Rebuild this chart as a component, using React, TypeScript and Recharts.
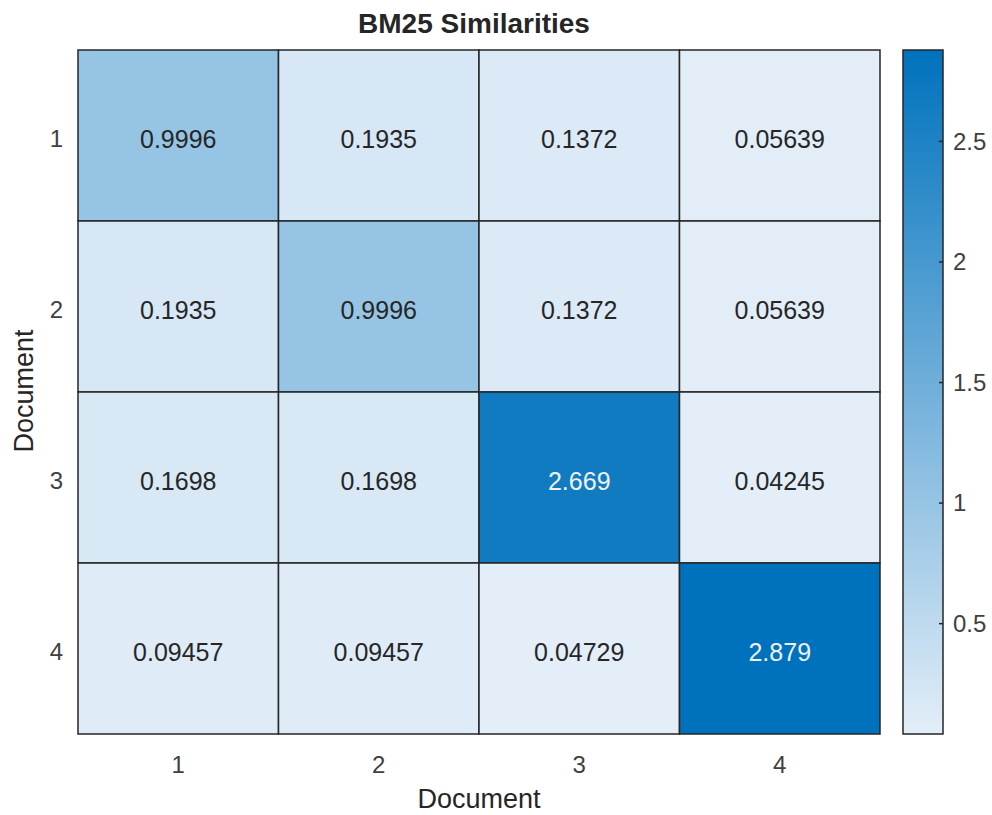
import React from "react";
import {
  ComposedChart,
  Scatter,
  XAxis,
  YAxis,
  ReferenceArea,
} from "recharts";

// ---- data ----
const xCategories = [1, 2, 3, 4];
const yCategories = [1, 2, 3, 4];
const row1 = [0.9996, 0.1935, 0.1372, 0.05639];
const row2 = [0.1935, 0.9996, 0.1372, 0.05639];
const row3 = [0.1698, 0.1698, 2.669, 0.04245];
const row4 = [0.09457, 0.09457, 0.04729, 2.879];
const rows = [row1, row2, row3, row4];
const colorbarTicks = [0.5, 1, 1.5, 2, 2.5];

const title = "BM25 Similarities";
const xLabel = "Document";
const yLabel = "Document";

// ---- derived ----
const cells = rows.flatMap((r, ri) =>
  r.map((v, ci) => ({ x: xCategories[ci], y: yCategories[ri], v }))
);
const allVals = rows.flat();
const vMin = Math.min(...allVals);
const vMax = Math.max(...allVals);

const LO = [227, 238, 248];
const HI = [0, 114, 189];
const colorFor = (v: number) => {
  const t = (v - vMin) / (vMax - vMin);
  const c = LO.map((l, i) => Math.round(l + (HI[i] - l) * t));
  return `rgb(${c[0]},${c[1]},${c[2]})`;
};
const textColorFor = (v: number) =>
  (v - vMin) / (vMax - vMin) > 0.6 ? "#f0f0f0" : "#262626";
const fmt = (v: number) => String(Number(v.toPrecision(4)));

const FONT = "'Liberation Sans', Arial, Helvetica, sans-serif";
const W = 992;
const H = 815;

const CellLabel = (props: any) => {
  const { cx, cy, payload } = props;
  return (
    <text
      x={cx}
      y={cy + 3}
      textAnchor="middle"
      dominantBaseline="central"
      fontFamily={FONT}
      fontSize={25}
      fill={textColorFor(payload.v)}
    >
      {fmt(payload.v)}
    </text>
  );
};

const YTick = (props: any) => {
  const { x, y, payload } = props;
  return (
    <text
      x={x}
      y={y + 3}
      textAnchor="end"
      dominantBaseline="central"
      fontFamily={FONT}
      fontSize={24}
      fill="#404040"
    >
      {payload.value}
    </text>
  );
};

const ColorbarTick = (props: any) => {
  const { x, y, payload } = props;
  return (
    <g>
      <line x1={x - 4} x2={x} y1={y} y2={y} stroke="#262626" strokeWidth={1.5} />
      <text
        x={x + 10}
        y={y}
        dy="0.35em"
        textAnchor="start"
        fontFamily={FONT}
        fontSize={24}
        fill="#404040"
      >
        {payload.value}
      </text>
    </g>
  );
};

const colorbarData = [
  { x: 0, y: vMin },
  { x: 1, y: vMax },
];

export default function App() {
  return (
    <div
      style={{
        position: "absolute",
        left: 0,
        top: 0,
        width: W,
        height: H,
        background: "#fff",
        fontFamily: FONT,
        overflow: "hidden",
      }}
    >
      <div style={{ position: "absolute", left: 0, top: 0 }}>
        <ComposedChart
          width={W}
          height={H}
          data={cells}
          margin={{ top: 50, right: 112, bottom: 41, left: 18 }}
        >
          <XAxis
            type="number"
            dataKey="x"
            domain={[0.5, 4.5]}
            ticks={xCategories}
            allowDataOverflow
            axisLine={false}
            tickLine={false}
            tickSize={0}
            tickMargin={22}
            height={40}
            tick={{ fontSize: 24, fill: "#404040", fontFamily: FONT }}
          />
          <YAxis
            type="number"
            dataKey="y"
            domain={[0.5, 4.5]}
            reversed
            ticks={yCategories}
            allowDataOverflow
            axisLine={false}
            tickLine={false}
            tickSize={0}
            tickMargin={15}
            width={60}
            tick={YTick}
          />
          {cells.map((c, i) => (
            <ReferenceArea
              key={i}
              x1={c.x - 0.5}
              x2={c.x + 0.5}
              y1={c.y - 0.5}
              y2={c.y + 0.5}
              fill={colorFor(c.v)}
              fillOpacity={1}
              stroke="#262626"
              strokeOpacity={1}
              strokeWidth={1.5}
              ifOverflow="visible"
            />
          ))}
          <Scatter
            data={cells}
            dataKey="y"
            isAnimationActive={false}
            shape={CellLabel}
          />
        </ComposedChart>
      </div>

      <div style={{ position: "absolute", left: 0, top: 0 }}>
        <ComposedChart
          width={W}
          height={H}
          data={colorbarData}
          margin={{ top: 50, right: 4, bottom: 81, left: 903 }}
        >
          <defs>
            <linearGradient id="cbGrad" x1="0" y1="1" x2="0" y2="0">
              <stop offset="0%" stopColor={colorFor(vMin)} />
              <stop offset="100%" stopColor={colorFor(vMax)} />
            </linearGradient>
          </defs>
          <XAxis type="number" dataKey="x" domain={[0, 1]} hide />
          <YAxis
            type="number"
            dataKey="y"
            orientation="right"
            domain={[vMin, vMax]}
            allowDataOverflow
            ticks={colorbarTicks}
            axisLine={false}
            tickLine={false}
            tickSize={0}
            tickMargin={0}
            width={45}
            tick={ColorbarTick}
          />
          <ReferenceArea
            x1={0}
            x2={1}
            y1={vMin}
            y2={vMax}
            fill="url(#cbGrad)"
            fillOpacity={1}
            stroke="#262626"
            strokeOpacity={1}
            strokeWidth={1.5}
            ifOverflow="visible"
          />
        </ComposedChart>
      </div>

      <div
        style={{
          position: "absolute",
          left: 474 - 200,
          width: 400,
          top: 8,
          textAlign: "center",
          fontWeight: "bold",
          fontSize: 28,
          color: "#262626",
          lineHeight: "32px",
        }}
      >
        {title}
      </div>
      <div
        style={{
          position: "absolute",
          left: 479 - 150,
          width: 300,
          top: 786,
          textAlign: "center",
          fontSize: 27,
          color: "#262626",
          lineHeight: "27px",
          height: 27,
        }}
      >
        {xLabel}
      </div>
      <div
        style={{
          position: "absolute",
          left: 24 - 150,
          top: 391 - 16,
          width: 300,
          height: 32,
          textAlign: "center",
          fontSize: 27,
          color: "#262626",
          lineHeight: "32px",
          transform: "rotate(-90deg)",
          transformOrigin: "150px 16px",
        }}
      >
        {yLabel}
      </div>
    </div>
  );
}
